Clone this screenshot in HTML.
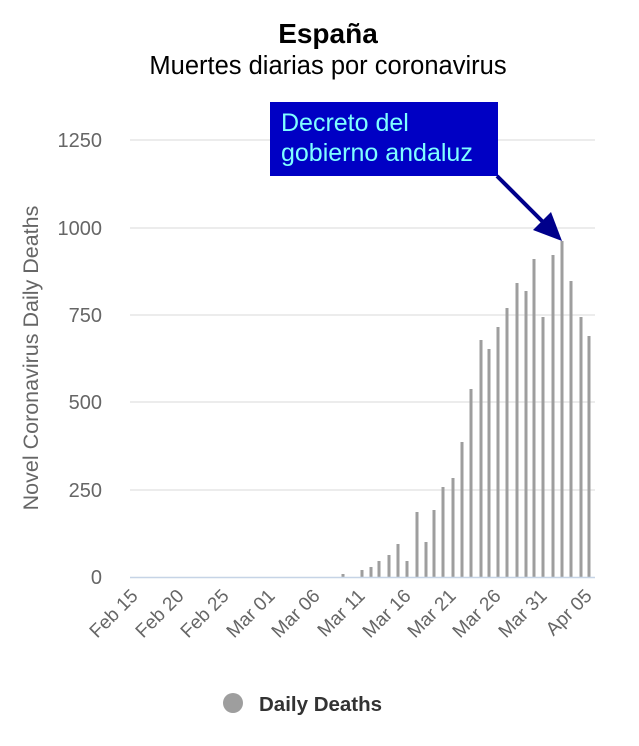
<!DOCTYPE html><html><head><meta charset="utf-8"><style>body{margin:0;background:#fff}svg{display:block;font-family:"Liberation Sans",sans-serif}</style></head><body>
<svg width="639" height="746" viewBox="0 0 639 746">
<text x="328" y="43" text-anchor="middle" font-size="28" font-weight="bold" fill="#000">España</text>
<text x="328" y="74" text-anchor="middle" font-size="25.5" fill="#000">Muertes diarias por coronavirus</text>
<g stroke="#e6e6e6" stroke-width="1.5">
<line x1="130" x2="595" y1="140" y2="140"/><line x1="130" x2="595" y1="228" y2="228"/><line x1="130" x2="595" y1="315" y2="315"/><line x1="130" x2="595" y1="402" y2="402"/><line x1="130" x2="595" y1="490" y2="490"/></g>
<g fill="#666" font-size="20" text-anchor="end">
<text x="102" y="147">1250</text><text x="102" y="235">1000</text><text x="102" y="322">750</text><text x="102" y="409">500</text><text x="102" y="497">250</text><text x="102" y="584">0</text></g>
<text transform="translate(38,358) rotate(-90)" text-anchor="middle" font-size="21.5" fill="#666">Novel Coronavirus Daily Deaths</text>
<g fill="#9e9e9e">
<rect x="341.5" y="574" width="3" height="3"/>
<rect x="360.5" y="570" width="3" height="7"/><rect x="369.5" y="567" width="3" height="10"/><rect x="377.5" y="561" width="3" height="16"/><rect x="387.5" y="555" width="3" height="22"/><rect x="396.5" y="544" width="3" height="33"/><rect x="405.5" y="561" width="3" height="16"/><rect x="415.5" y="512" width="3" height="65"/><rect x="424.5" y="542" width="3" height="35"/><rect x="432.5" y="510" width="3" height="67"/><rect x="441.5" y="487" width="3" height="90"/><rect x="451.5" y="478" width="3" height="99"/><rect x="460.5" y="442" width="3" height="135"/><rect x="469.5" y="389" width="3" height="188"/><rect x="479.5" y="340" width="3" height="237"/><rect x="487.5" y="349" width="3" height="228"/><rect x="496.5" y="327" width="3" height="250"/><rect x="505.5" y="308" width="3" height="269"/><rect x="515.5" y="283" width="3" height="294"/><rect x="524.5" y="291" width="3" height="286"/><rect x="532.5" y="259" width="3" height="318"/><rect x="541.5" y="317" width="3" height="260"/><rect x="551.5" y="255" width="3" height="322"/><rect x="560.5" y="241" width="3" height="336"/><rect x="569.5" y="281" width="3" height="296"/><rect x="579.5" y="317" width="3" height="260"/><rect x="587.5" y="336" width="3" height="241"/>
</g>
<line x1="130" x2="595" y1="577.5" y2="577.5" stroke="#c6d4e6" stroke-width="1.5"/>
<g fill="#666" font-size="19" text-anchor="end">
<text transform="translate(139,597) rotate(-45)">Feb 15</text>
<text transform="translate(185,597) rotate(-45)">Feb 20</text>
<text transform="translate(230,597) rotate(-45)">Feb 25</text>
<text transform="translate(276,597) rotate(-45)">Mar 01</text>
<text transform="translate(321,597) rotate(-45)">Mar 06</text>
<text transform="translate(366,597) rotate(-45)">Mar 11</text>
<text transform="translate(412,597) rotate(-45)">Mar 16</text>
<text transform="translate(457,597) rotate(-45)">Mar 21</text>
<text transform="translate(502,597) rotate(-45)">Mar 26</text>
<text transform="translate(548,597) rotate(-45)">Mar 31</text>
<text transform="translate(593,597) rotate(-45)">Apr 05</text>
</g>
<rect x="270" y="102" width="228" height="74" fill="#0000c4"/>
<text x="281" y="131" font-size="25" fill="#7fffff">Decreto del</text>
<text x="281" y="161" font-size="25" fill="#7fffff">gobierno andaluz</text>
<line x1="497" y1="176" x2="545" y2="224" stroke="#00008b" stroke-width="4"/>
<polygon points="562,241 533,230 551,212" fill="#00008b"/>
<circle cx="233" cy="703" r="10" fill="#9e9e9e"/>
<text x="259" y="711" font-size="20.5" font-weight="bold" fill="#333">Daily Deaths</text>
</svg></body></html>
